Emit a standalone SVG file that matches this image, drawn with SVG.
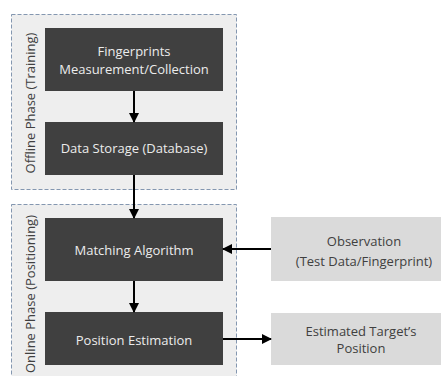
<svg xmlns="http://www.w3.org/2000/svg" width="441" height="376" viewBox="0 0 441 376">
<defs>
<marker id="ah" viewBox="0 0 10 10" refX="9" refY="5" markerWidth="5" markerHeight="5" orient="auto" markerUnits="strokeWidth">
<path d="M0,0 L10,5 L0,10 z" fill="#000"/>
</marker>
<style>
.grp{fill:#eeeeee;stroke:#8497b0;stroke-width:1;stroke-dasharray:4,2}
.dark{fill:#404040}
.light{fill:#dadada}
.wt{font-family:"Open Sans","Liberation Sans",sans-serif;font-size:13px;fill:#ececec;text-anchor:middle}
.bt{font-family:"Open Sans","Liberation Sans",sans-serif;font-size:13px;fill:#404040;text-anchor:middle}
.vt{font-family:"Open Sans","Liberation Sans",sans-serif;font-size:13px;fill:#404040;text-anchor:middle}
.cn{stroke:#000;stroke-width:2;fill:none;marker-end:url(#ah)}
</style>
</defs>
<g id="offline-phase">
<rect class="grp" x="11.5" y="14.5" width="225" height="175"/>
<text class="vt" transform="translate(34.5,103) rotate(-90)">Offline Phase (Training)</text>
</g>
<g id="online-phase">
<rect class="grp" x="11.5" y="204.5" width="225" height="190"/>
<text class="vt" transform="translate(34.5,294) rotate(-90)">Online Phase (Positioning)</text>
</g>
<g id="fingerprints">
<rect class="dark" x="45" y="28" width="178" height="63"/>
<text class="wt" x="134" y="56">Fingerprints</text>
<text class="wt" x="134" y="74">Measurement/Collection</text>
</g>
<g id="data-storage">
<rect class="dark" x="45" y="122" width="178" height="53"/>
<text class="wt" x="134" y="153">Data Storage (Database)</text>
</g>
<g id="matching">
<rect class="dark" x="45" y="218" width="178" height="63"/>
<text class="wt" x="134" y="255">Matching Algorithm</text>
</g>
<g id="position-estimation">
<rect class="dark" x="45" y="312" width="178" height="53"/>
<text class="wt" x="134" y="345">Position Estimation</text>
</g>
<g id="observation">
<rect class="light" x="271" y="217" width="185" height="64"/>
<text class="bt" x="364" y="246">Observation</text>
<text class="bt" x="364" y="266">(Test Data/Fingerprint)</text>
</g>
<g id="estimated-position">
<rect class="light" x="271" y="313" width="185" height="52"/>
<text class="bt" x="361" y="336">Estimated Target’s</text>
<text class="bt" x="361" y="353">Position</text>
</g>
<g id="connectors">
<line class="cn" x1="134" y1="91" x2="134" y2="122"/>
<line class="cn" x1="134" y1="175" x2="134" y2="218"/>
<line class="cn" x1="134" y1="281" x2="134" y2="312"/>
<line class="cn" x1="271" y1="249" x2="223" y2="249"/>
<line class="cn" x1="223" y1="339" x2="271" y2="339"/>
</g>
</svg>
